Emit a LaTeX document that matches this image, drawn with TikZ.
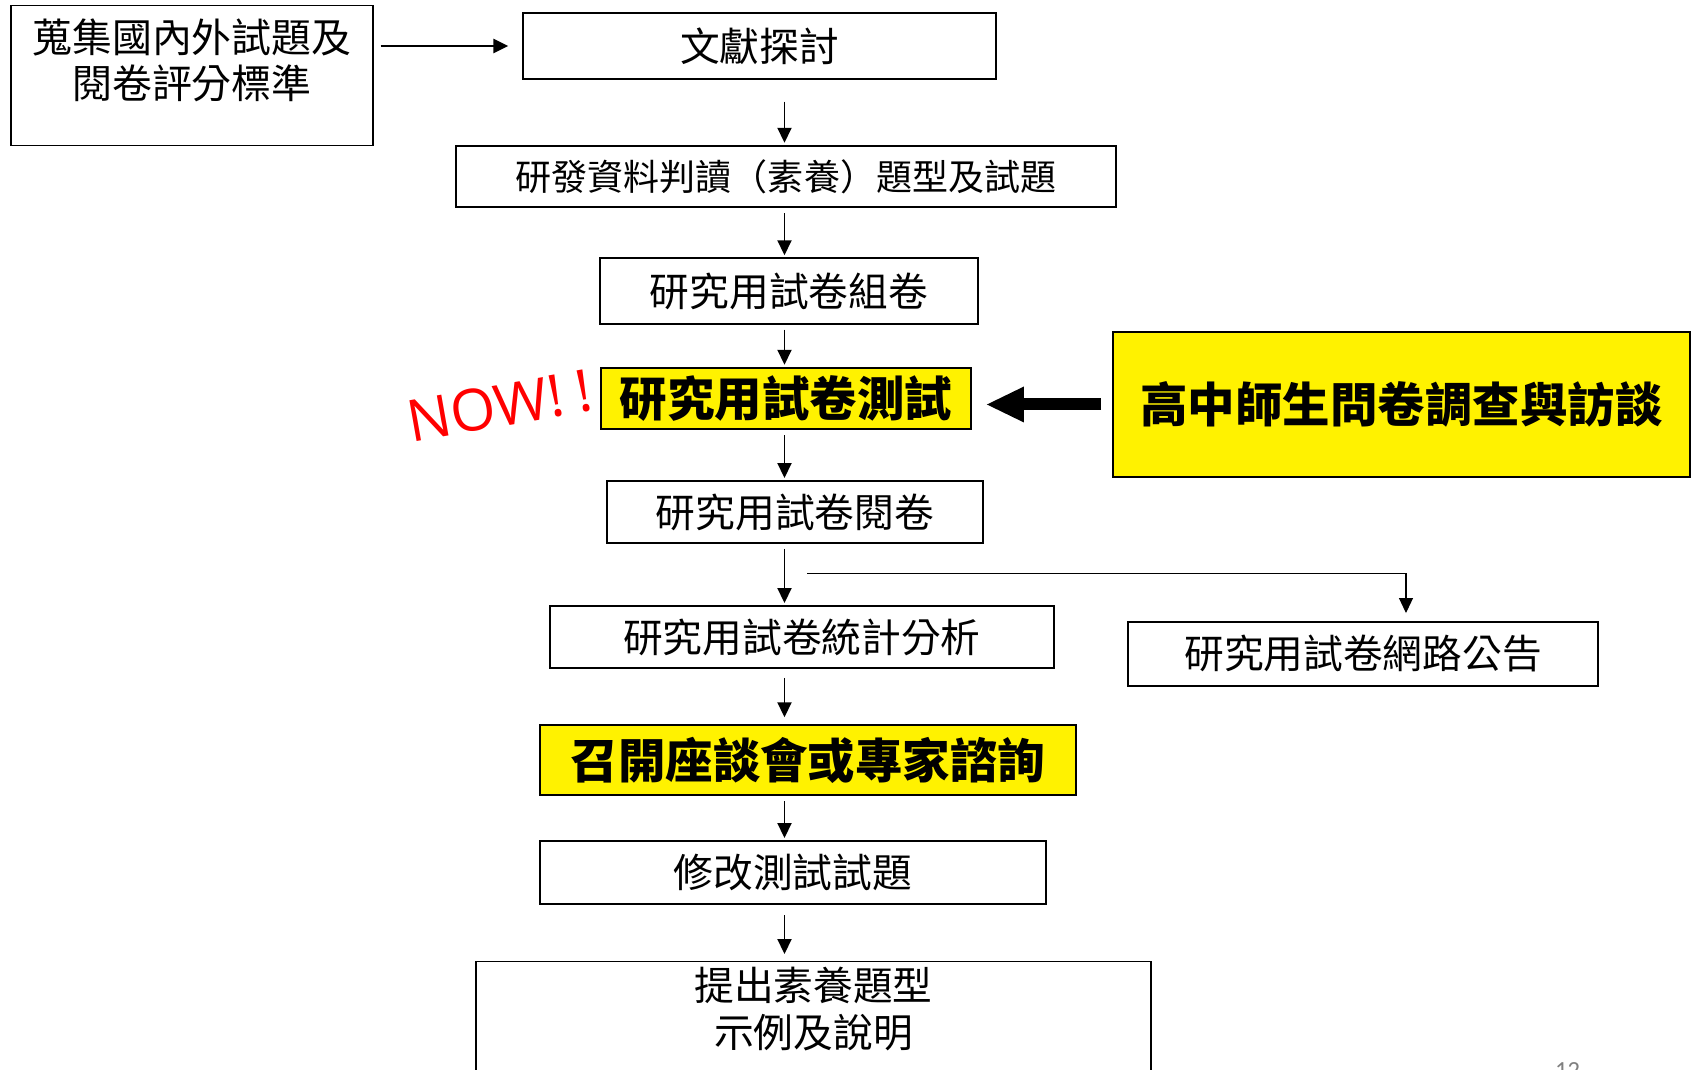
\documentclass[tikz,border=0pt]{standalone}
\usepackage{fontspec}
\setmainfont{Noto Sans CJK TC}
\newfontfamily\latinfont{Open Sans}
\newfontfamily\pagefont{Carlito}
\usetikzlibrary{arrows.meta}
\begin{document}
\begin{tikzpicture}
%define
\tikzstyle{state_n} = [rectangle, minimum height=1.24cm, text centered, draw=black, line width=1.1pt, inner sep=0pt, font=\fontsize{22.6}{26.4}\selectfont]
\tikzstyle{state_y} = [rectangle, minimum height=1.24cm, text centered, draw=black, line width=1.1pt, inner sep=0pt, fill=yellow, font=\bfseries\fontsize{27}{32}\selectfont]
\tikzstyle{arrow} = [-{Triangle[length=0.3cm, width=0.28cm]}, line width=1.1pt, shorten <= 0.1cm, shorten >= 0.04cm]
\tikzstyle{arrowt} = [-{Triangle[length=0.3cm, width=0.28cm]}, line width=0.6pt]
\tikzstyle{arrowb} = [-{Triangle[length=0.74cm, width=0.72cm, line width=0pt]}, line width=0.24cm]

\useasboundingbox (-15.19,0.92) rectangle (18.63,-20.48);
\clip (-15.19,0.92) rectangle (18.63,-20.48);

\node[state_n, minimum width=9.45cm, minimum height=1.31cm](state_Lit){文獻探討};
\node[state_n, left of = state_Lit, xshift = -10.35cm, yshift = -0.59cm, minimum width=7.25cm, minimum height=2.8cm](state_Collect){};
\node[font=\fontsize{22.7}{26.3}\selectfont, align=center](text_Collect) at ([yshift=0.31cm]state_Collect.center){蒐集國內外試題及\\閱卷評分標準};
\node[state_n, below of = state_Lit, xshift = 0.53cm, yshift = -1.61cm, minimum width=13.2cm, minimum height=1.23cm, font=\fontsize{20.5}{24}\selectfont](state_Dev){研發資料判讀（素養）題型及試題};
\node[state_n, below of = state_Lit, xshift = 0.59cm, yshift = -3.9cm, minimum width=7.57cm, minimum height=1.31cm](state_Paper){研究用試卷組卷};
\node[state_y, below of = state_Lit, xshift = 0.53cm, yshift = -6.05cm, minimum width=7.4cm, minimum height=1.23cm](state_Test){研究用試卷測試};
\node[state_y, below of = state_Lit, xshift = 12.84cm, yshift = -6.17cm, minimum width=11.54cm, minimum height=2.9cm](state_Survey){高中師生問卷調查與訪談};
\node[state_n, below of = state_Lit, xshift = 0.71cm, yshift = -8.32cm, minimum width=7.51cm](state_Mark){研究用試卷閱卷};
\node[state_n, below of = state_Lit, xshift = 0.85cm, yshift = -10.82cm, minimum width=10.08cm](state_Stat){研究用試卷統計分析};
\node[state_n, below of = state_Lit, xshift = 12.07cm, yshift = -11.16cm, minimum width=9.41cm, minimum height=1.28cm](state_Web){研究用試卷網路公告};
\node[state_y, below of = state_Lit, xshift = 0.97cm, yshift = -13.28cm, minimum width=10.71cm, minimum height=1.41cm](state_Meet){召開座談會或專家諮詢};
\node[state_n, below of = state_Lit, xshift = 0.67cm, yshift = -15.53cm, minimum width=10.12cm, minimum height=1.26cm](state_Revise){修改測試試題};
\node[state_n, below of = state_Lit, xshift = 1.08cm, yshift = -18.74cm, minimum width=13.51cm, minimum height=2.86cm](state_Final){};
\node[font=\fontsize{22.6}{27.2}\selectfont, align=center](text_Final) at ([yshift=0.48cm]state_Final.center){提出素養題型\\示例及說明};
%now
\node[rotate=10, text=red, font=\latinfont\fontsize{33}{38}\selectfont](text_Now) at (-5.2,-7.2){NOW!\kern0.22em!};
\node[anchor=base, text=gray, font=\pagefont\fontsize{14}{16}\selectfont](page_Num) at (16.16,-20.65){12};
%line
\coordinate[below of = state_Lit, xshift = 0.5cm, yshift = 1cm](trunk);
\coordinate[below of = state_Lit, xshift = 0.96cm, yshift = -9.55cm](branch_start);
\draw[arrow, line width=1.5pt, shorten <= 0.13cm, shorten >= 0.28cm](state_Collect.east |- state_Lit.west)--(state_Lit.west);
\draw[arrow, shorten <= 0.44cm](state_Lit.south -| trunk)--(state_Dev.north -| trunk);
\draw[arrow](state_Dev.south -| trunk)--(state_Paper.north -| trunk);
\draw[arrow](state_Paper.south -| trunk)--(state_Test.north -| trunk);
\draw[arrow](state_Test.south -| trunk)--(state_Mark.north -| trunk);
\draw[arrow](state_Mark.south -| trunk)--(state_Stat.north -| trunk);
\draw[arrow, shorten <= 0.18cm, shorten >= 0.13cm](state_Stat.south -| trunk)--(state_Meet.north -| trunk);
\draw[arrow](state_Meet.south -| trunk)--(state_Revise.north -| trunk);
\draw[arrow, shorten <= 0.21cm, shorten >= 0.13cm](state_Revise.south -| trunk)--(state_Final.north -| trunk);
\draw[arrowt, shorten >= 0.16cm](branch_start) -| ([xshift=0.86cm]state_Web.north); %Mark->Web
\draw[arrowb, shorten <= 0.22cm, shorten >= 0.3cm](state_Survey.west)--(state_Survey.west -| state_Test.east); %Survey->Test

\end{tikzpicture}
\end{document}
